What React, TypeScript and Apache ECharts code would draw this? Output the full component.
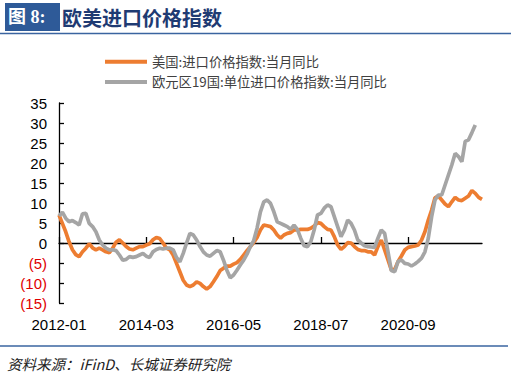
import React, { useEffect, useRef } from "react";
import * as echarts from "echarts";

const startYear = 2012;
const monthCount = 127;
const categories: string[] = [];
for (let k = 0; k < monthCount; k++) {
  const y = startYear + Math.floor(k / 12);
  const m = (k % 12) + 1;
  categories.push(`${y}-${m < 10 ? "0" + m : m}`);
}

const usName = "美国:进口价格指数:当月同比";
const euName = "欧元区19国:单位进口价格指数:当月同比";

const usValues: (number | null)[] = [
  7.0, 4.9, 2.8, 0.3, -1.7, -2.9, -3.4, -2.2, -1.3, -0.2,
  -1.2, -1.7, -1.3, -1.7, -2.2, -2.4, -1.3, 0.2, 0.8, 0.0,
  -0.9, -1.5, -1.7, -1.3, -0.9, -0.9, -0.5, -0.2, 0.8, 1.4,
  1.1, 0.0, -1.3, -1.7, -3.0, -5.1, -7.2, -9.3, -10.5, -10.9,
  -10.5, -9.7, -10.1, -10.9, -11.5, -10.9, -9.7, -8.4, -6.9, -6.3,
  -5.8, -5.8, -5.3, -4.9, -4.1, -3.0, -1.9, -0.9, 0.1, 1.4,
  3.25, 4.5, 4.3, 4.1, 3.25, 2.0, 1.2, 2.0, 2.4, 2.6,
  3.25, 3.25, 3.4, 3.4, 3.4, 3.7, 4.25, 5.1, 4.9, 4.1,
  3.4, 3.25, 1.6, -0.5, -1.6, -0.9, 0.1, 0.0, -0.9, -1.6,
  -1.9, -1.9, -2.2, -2.2, -3.0, -0.9, 0.75, -1.75, -4.25, -6.75,
  -6.6, -4.6, -3.25, -1.75, -1.1, -0.9, -0.75, -0.5, 0.75, 2.8,
  5.75, 8.25, 11.3, 11.75, 10.75, 9.75, 9.1, 10.3, 11.4, 10.75,
  10.6, 11.2, 11.75, 13.1, 12.4, 11.4, 10.9,
];

const euValues: (number | null)[] = [
  6.75, 7.7, 6.2, 5.3, 5.6, 5.1, 4.5, 7.3, 7.4, 4.9,
  4.1, 2.8, 0.75, -0.5, -1.3, -1.7, -1.7, -1.9, -3.0, -4.3,
  -4.1, -3.4, -3.6, -3.4, -3.0, -2.6, -3.3, -3.6, -2.2, -1.6,
  -1.3, -1.5, -1.3, -1.3, -1.7, -3.6, -4.7, -2.6, 0.0, 2.4,
  2.0, 0.75, -0.9, -2.2, -3.0, -3.3, -2.6, -1.9, -2.2, -4.3,
  -6.8, -8.7, -8.0, -6.8, -5.5, -4.3, -2.8, -0.9, 0.6, 3.7,
  7.8, 10.3, 10.75, 9.9, 7.8, 5.3, 4.9, 4.5, 4.1, 3.4,
  4.5, 3.4, 1.2, -0.7, -0.9, 0.3, 3.25, 7.0, 7.4, 8.7,
  9.5, 9.1, 6.6, 4.1, 1.6, 3.25, 5.75, 4.9, 3.25, 0.75,
  0.0, -0.7, -0.9, -1.0, -1.1, 1.2, 3.25, 2.4, -2.2, -6.9,
  -7.2, -4.6, -4.25, -5.1, -5.25, -5.75, -5.25, -4.6, -3.8, -2.2,
  1.2, 6.6, 10.75, 12.0, 12.0, 14.5, 17.0, 19.5, 22.4, 21.6,
  20.3, 25.4, 25.8, 27.6, 29.5, null, null,
];

const yMin = -15;
const yMax = 35;
const yStep = 5;
const labelEvery = 26;

const titleLabel = "图 8:";
const titleText = "欧美进口价格指数";
const sourceText = "资料来源：iFinD、长城证券研究院";

export default function App() {
  const ref = useRef<HTMLDivElement>(null);
  useEffect(() => {
    if (!ref.current) return;
    const chart = echarts.init(ref.current, null, { renderer: "svg" });
    const axisFont = "Arial, 'Liberation Sans', sans-serif";
    chart.setOption({
      animation: false,
      backgroundColor: "#ffffff",
      grid: { left: 59, right: 29, top: 103, bottom: 73, containLabel: false },
      legend: {
        orient: "vertical",
        left: 100,
        top: 50,
        itemWidth: 42,
        itemHeight: 4,
        itemGap: 7,
        icon: "rect",
        textStyle: {
          fontSize: 13.3,
          color: "#404040",
          fontFamily: "'Noto Sans CJK SC', sans-serif",
        },
        data: [usName, euName],
      },
      xAxis: [
        {
          type: "category",
          data: categories,
          boundaryGap: false,
          position: "bottom",
          axisLine: { show: false, onZero: false },
          axisTick: { show: false },
          splitLine: { show: false },
          axisLabel: {
            interval: labelEvery - 1,
            margin: 14,
            fontSize: 15,
            color: "#000",
            fontFamily: axisFont,
          },
        },
        {
          type: "category",
          data: categories,
          boundaryGap: false,
          position: "bottom",
          axisLine: { show: true, onZero: true, lineStyle: { color: "#000", width: 1.3 } },
          axisTick: {
            show: true,
            inside: true,
            length: 6,
            interval: labelEvery - 1,
            lineStyle: { color: "#000", width: 1.3 },
          },
          axisLabel: { show: false },
          splitLine: { show: false },
        },
      ],
      yAxis: {
        type: "value",
        min: yMin,
        max: yMax,
        interval: yStep,
        axisLine: { show: true, onZero: false, lineStyle: { color: "#000", width: 1.3 } },
        axisTick: { show: true, inside: true, length: 5, lineStyle: { color: "#000", width: 1.3 } },
        splitLine: { show: false },
        axisLabel: {
          margin: 12,
          fontSize: 15,
          fontFamily: axisFont,
          color: (v: any) => (Number(v) < 0 ? "#E00000" : "#000"),
          formatter: (v: number) => (v < 0 ? `(${-v})` : `${v}`),
        },
      },
      series: [
        {
          name: usName,
          type: "line",
          xAxisIndex: 0,
          data: usValues,
          showSymbol: false,
          symbol: "none",
          lineStyle: { color: "#ED7D31", width: 3.7 },
          itemStyle: { color: "#ED7D31" },
        },
        {
          name: euName,
          type: "line",
          xAxisIndex: 0,
          data: euValues,
          showSymbol: false,
          symbol: "none",
          connectNulls: false,
          lineStyle: { color: "#A5A5A5", width: 3.7 },
          itemStyle: { color: "#A5A5A5" },
        },
      ],
      graphic: [
        {
          type: "rect",
          shape: { x: 5, y: 3, width: 55, height: 28 },
          style: { fill: "#2E5A98" },
        },
        {
          type: "text",
          x: 8,
          y: 17,
          style: {
            text: titleLabel,
            fill: "#ffffff",
            font: "bold 18px 'Liberation Serif', 'Noto Sans CJK SC', serif",
            verticalAlign: "middle",
          },
        },
        {
          type: "text",
          x: 62,
          y: 17,
          style: {
            text: titleText,
            fill: "#1F3B73",
            font: "bold 20px 'Noto Sans CJK SC', sans-serif",
            verticalAlign: "middle",
          },
        },
        {
          type: "line",
          shape: { x1: 0, y1: 33.5, x2: 511, y2: 33.5 },
          style: { stroke: "#3A64A0", lineWidth: 1.6 },
        },
        {
          type: "line",
          shape: { x1: 0, y1: 346, x2: 508, y2: 346 },
          style: { stroke: "#3A64A0", lineWidth: 1.6 },
        },
        {
          type: "text",
          x: 7,
          y: 363,
          style: {
            text: sourceText,
            fill: "#222",
            font: "italic 14.5px 'Noto Sans CJK SC', serif",
            verticalAlign: "middle",
          },
        },
      ],
    });
    return () => chart.dispose();
  }, []);
  return (
    <div
      ref={ref}
      style={{ position: "absolute", left: 0, top: 0, width: 511, height: 376 }}
    />
  );
}
